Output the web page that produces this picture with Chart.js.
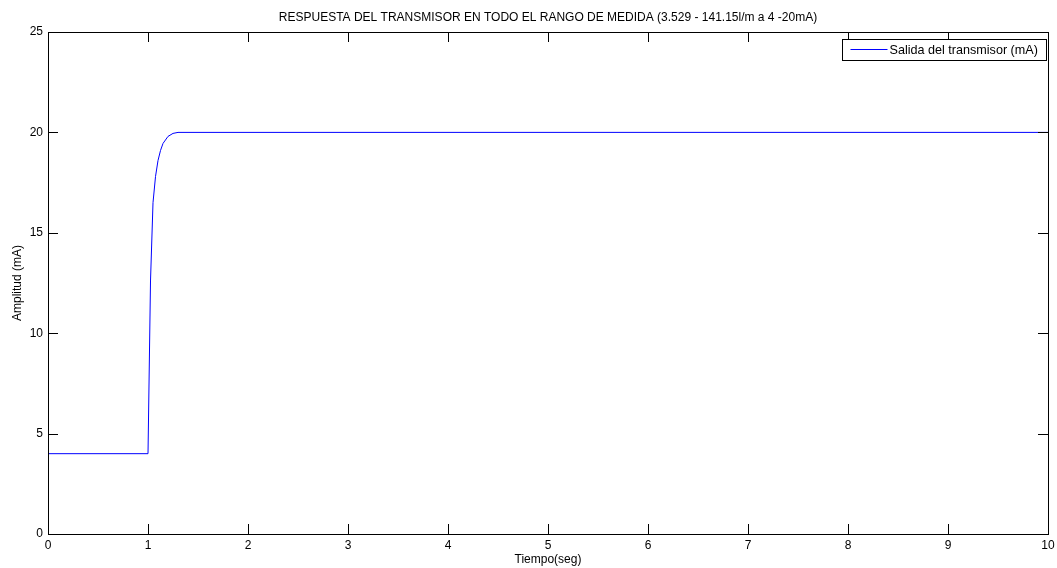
<!DOCTYPE html>
<html>
<head>
<meta charset="utf-8">
<script src="https://cdn.jsdelivr.net/npm/chart.js@4"></script>
<style>
  html, body { margin: 0; padding: 0; background: #fff; }
  #wrap { width: 1057px; height: 568px; }
</style>
</head>
<body>
<div id="wrap"><canvas id="myChart" width="1057" height="568"></canvas></div>
<script>
// datos
const tiempo = [0, 1.0, 1.025, 1.05, 1.075, 1.1, 1.125, 1.15, 1.2, 1.25, 1.3, 10];
const salida = [4, 4, 12.6, 16.5, 17.8, 18.6, 19.1, 19.45, 19.8, 19.95, 20, 20];
const xTicks = [0, 1, 2, 3, 4, 5, 6, 7, 8, 9, 10];
const yTicks = [0, 5, 10, 15, 20, 25];

const fontName = "'Liberation Sans', Arial, sans-serif";

// caja + marcas hacia dentro (estilo matlab) + leyenda
const matlabBox = {
  id: 'matlabBox',
  afterDatasetsDraw(chart) {
    const ctx = chart.ctx;
    const a = chart.chartArea;
    const xs = chart.scales.x, ys = chart.scales.y;
    const tl = 10;
    ctx.save();
    ctx.strokeStyle = '#000';
    ctx.lineWidth = 1;
    ctx.beginPath();
    xTicks.forEach(v => {
      const px = Math.round(xs.getPixelForValue(v)) + 0.5;
      ctx.moveTo(px, a.bottom); ctx.lineTo(px, a.bottom - tl);
      ctx.moveTo(px, a.top); ctx.lineTo(px, a.top + tl);
    });
    yTicks.forEach(v => {
      const py = Math.round(ys.getPixelForValue(v)) + 0.5;
      ctx.moveTo(a.left, py); ctx.lineTo(a.left + tl, py);
      ctx.moveTo(a.right, py); ctx.lineTo(a.right - tl, py);
    });
    ctx.stroke();
    ctx.strokeRect(Math.round(a.left) + 0.5, Math.round(a.top) + 0.5,
      Math.round(a.right - a.left), Math.round(a.bottom - a.top));

    // leyenda
    const ds = chart.data.datasets[0];
    const bx = Math.round(a.right) - 205.5, by = Math.round(a.top) + 7.5;
    ctx.fillStyle = '#fff';
    ctx.fillRect(bx, by, 204, 21);
    ctx.strokeStyle = '#000';
    ctx.strokeRect(bx, by, 204, 21);
    ctx.beginPath();
    ctx.strokeStyle = '#0000ff';
    ctx.moveTo(bx + 8, by + 10); ctx.lineTo(bx + 45, by + 10);
    ctx.stroke();
    ctx.fillStyle = '#000';
    ctx.font = '12.6px ' + fontName;
    ctx.textBaseline = 'middle';
    ctx.fillText(ds.label, bx + 47, by + 11);
    ctx.restore();
  }
};

const ctx = document.getElementById('myChart').getContext('2d');
const myChart = new Chart(ctx, {
  type: 'line',
  data: {
    datasets: [{
      label: 'Salida del transmisor (mA)',
      data: tiempo.map((t, i) => ({ x: t, y: salida[i] })),
      borderColor: '#0000ff',
      borderWidth: 1,
      pointRadius: 0,
      tension: 0,
      fill: false
    }]
  },
  options: {
    responsive: false,
    animation: false,
    layout: { padding: { left: 0, right: 9, top: 0, bottom: 0 } },
    plugins: {
      legend: { display: false },
      tooltip: { enabled: false },
      title: {
        display: true,
        fullSize: false,
        text: 'RESPUESTA DEL TRANSMISOR EN TODO EL RANGO DE MEDIDA (3.529 - 141.15l/m a 4 -20mA)',
        color: '#000',
        font: { family: fontName, size: 12, weight: 'normal' },
        padding: { top: 10, bottom: 7.6 }
      }
    },
    scales: {
      x: {
        type: 'linear',
        min: 0, max: 10,
        afterBuildTicks: s => { s.ticks = xTicks.map(v => ({ value: v })); },
        afterFit: s => { s.height = 34; s.paddingLeft = 0; s.paddingRight = 0; },
        grid: { display: false, drawTicks: false },
        border: { display: false },
        ticks: { color: '#000', padding: 4, maxRotation: 0,
          font: { family: fontName, size: 12 } },
        title: { display: true, text: 'Tiempo(seg)', color: '#000',
          font: { family: fontName, size: 12 }, padding: { top: 0, bottom: 1 } }
      },
      y: {
        min: 0, max: 25,
        afterBuildTicks: s => { s.ticks = yTicks.map(v => ({ value: v })); },
        afterFit: s => { s.width = 48; s.paddingTop = 0; s.paddingBottom = 0; },
        grid: { display: false, drawTicks: false },
        border: { display: false },
        ticks: { color: '#000', padding: 5,
          font: { family: fontName, size: 12 } },
        title: { display: true, text: 'Amplitud (mA)', color: '#000',
          font: { family: fontName, size: 12 }, padding: { top: 10, bottom: 0 } }
      }
    }
  },
  plugins: [matlabBox]
});
</script>
</body>
</html>
